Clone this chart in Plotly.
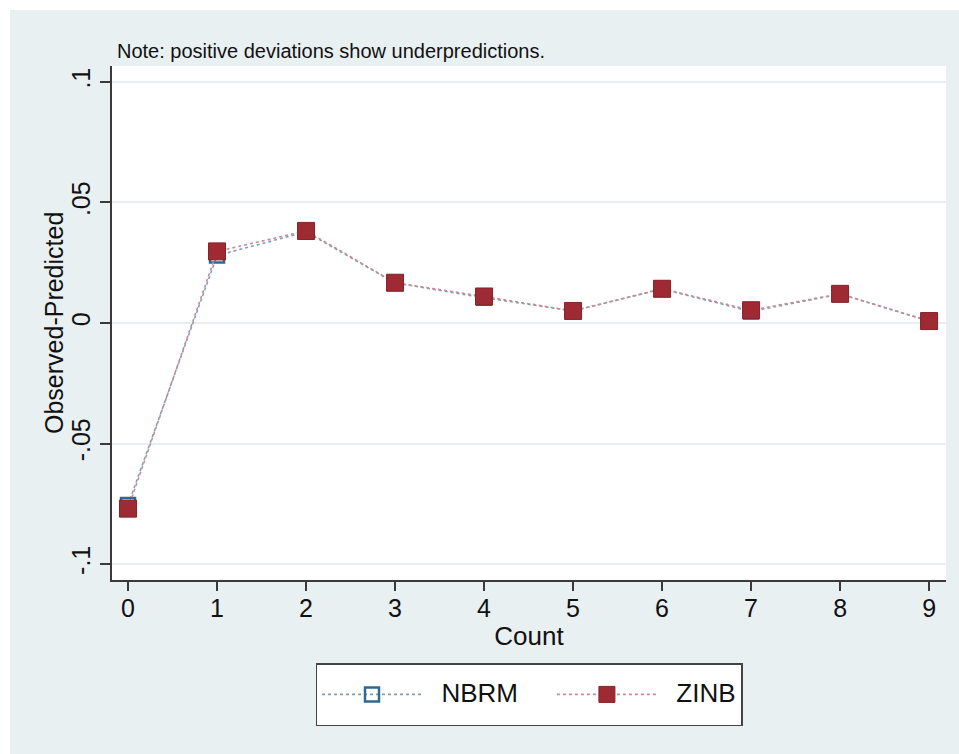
import plotly.graph_objects as go

# Deviations of observed from predicted count probabilities
counts = [0, 1, 2, 3, 4, 5, 6, 7, 8, 9]
nbrm = [-0.0755, 0.0280, 0.0378, 0.0166, 0.0105, 0.0050, 0.0141, 0.0048, 0.0120, 0.0008]
zinb = [-0.0770, 0.0297, 0.0382, 0.0167, 0.0110, 0.0050, 0.0142, 0.0053, 0.0121, 0.0008]

y_ticks = [-0.1, -0.05, 0, 0.05, 0.1]
y_tick_text = ["-.1", "-.05", "0", ".05", ".1"]

FONT = "Liberation Sans, Arial, Helvetica, sans-serif"
BG = "#e8f0f2"
GRID = "#e6eef0"
AXIS = "#3a3a3a"
NB = "\u00a0\u00a0"

W, H = 959, 754
L, R, T, B = 112, 13, 66, 174
pw, ph = W - L - R, H - T - B


def px_x(p):
    return (p - L) / pw


def px_y(p):
    return (H - B - p) / ph


def legend_label(s):
    # legend row height follows the legend font; the label itself is drawn at 26px
    return "<span style='font-size:26px;baseline-shift:6px'>" + s + "</span>"


fig = go.Figure()

fig.add_trace(go.Scatter(
    x=counts, y=nbrm, name=legend_label(NB + "NBRM" + NB + NB), mode="lines+markers",
    line=dict(color="#7f9fb6", width=1.6, dash="dot"),
    marker=dict(symbol="square-open", size=14, color="#2f6a8e",
                line=dict(color="#2f6a8e", width=2.5)),
))
fig.add_trace(go.Scatter(
    x=counts, y=zinb, name=legend_label(NB + "ZINB"), mode="lines+markers",
    line=dict(color="#c98a92", width=1.6, dash="dot"),
    marker=dict(symbol="square", size=17, color="#9e2a33",
                line=dict(color="#8a2029", width=1)),
))

fig.update_layout(
    width=W, height=H,
    margin=dict(l=L, r=R, t=T, b=B),
    paper_bgcolor=BG,
    plot_bgcolor="white",
    font=dict(family=FONT, color="#111111"),
    showlegend=True,
    legend=dict(
        orientation="h",
        x=0.5, y=px_y(663), xanchor="center", yanchor="top",
        bgcolor="white", bordercolor="#444444", borderwidth=1.5,
        font=dict(size=36, family=FONT, color="#111111"),
        itemwidth=100,
    ),
    xaxis=dict(
        range=[-0.18, 9.19],
        tickvals=counts, ticktext=[str(c) for c in counts],
        ticks="outside", ticklen=9, tickwidth=1.5, tickcolor=AXIS,
        showline=True, linecolor=AXIS, linewidth=1.5,
        showgrid=False, zeroline=False,
        tickfont=dict(size=25), ticklabelstandoff=-4,
        title=dict(text="Count", font=dict(size=26), standoff=6),
    ),
    yaxis=dict(
        range=[-0.1066, 0.1066],
        tickvals=y_ticks, ticktext=y_tick_text, tickangle=-90,
        ticks="outside", ticklen=10, tickwidth=1.5, tickcolor=AXIS,
        showline=True, linecolor=AXIS, linewidth=1.5,
        showgrid=True, gridcolor=GRID, gridwidth=1.5,
        zeroline=False,
        tickfont=dict(size=25), ticklabelstandoff=0,
    ),
    annotations=[
        dict(
            text="Note: positive deviations show underpredictions.",
            xref="paper", yref="paper", x=px_x(115), y=px_y(64),
            xanchor="left", yanchor="bottom", showarrow=False,
            font=dict(size=20, family=FONT, color="#111111"),
        ),
        # y-axis title
        dict(
            text="Observed-Predicted", textangle=-90,
            xref="paper", yref="paper", x=px_x(54), y=0.5,
            xanchor="center", yanchor="middle", showarrow=False,
            font=dict(size=25, family=FONT, color="#111111"),
        ),
    ],
    shapes=[
        # thin white border at top and left of the canvas
        dict(type="rect", xref="paper", yref="paper", layer="below",
             x0=px_x(0), x1=px_x(W), y0=px_y(10), y1=px_y(0),
             fillcolor="white", line=dict(width=0)),
        dict(type="rect", xref="paper", yref="paper", layer="below",
             x0=px_x(0), x1=px_x(10), y0=px_y(H), y1=px_y(0),
             fillcolor="white", line=dict(width=0)),
    ],
)

fig.write_html("out.html")
